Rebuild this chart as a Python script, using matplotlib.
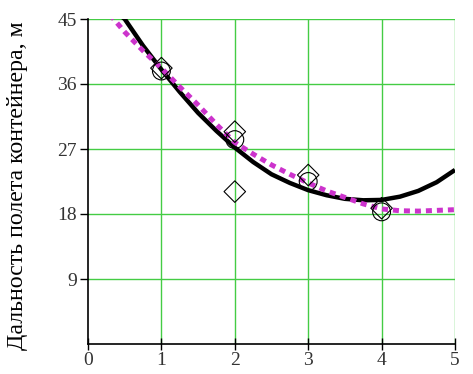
import matplotlib
matplotlib.use("Agg")
import matplotlib.pyplot as plt
import numpy as np

# measured points
circ_x = [1, 2, 3, 4]
circ_y = [37.8, 28.3, 22.5, 18.3]
diam_x = [1, 2, 2, 3, 4]
diam_y = [38.2, 29.4, 21.1, 23.4, 18.8]

# black curve
blk_x = [0.4, 0.5, 0.75, 1.0, 1.25, 1.5, 1.75, 2.0, 2.25, 2.5, 2.75, 3.0, 3.25, 3.5, 3.75, 4.0, 4.25, 4.5, 4.75, 5.0]
blk_y = [45.8, 45.0, 41.3, 38.0, 34.9, 32.0, 29.5, 27.2, 25.2, 23.5, 22.3, 21.3, 20.6, 20.1, 19.9, 19.95, 20.4, 21.2, 22.4, 24.1]

# magenta dashed curve
mag_x = [0.3, 0.5, 0.75, 1.0, 1.25, 1.5, 1.75, 2.0, 2.25, 2.5, 2.75, 3.0, 3.25, 3.5, 3.75, 4.0, 4.25, 4.5, 4.75, 5.0]
mag_y = [45.6, 43.2, 40.6, 38.2, 35.6, 33.1, 30.4, 27.9, 26.3, 24.8, 23.5, 22.3, 21.2, 20.3, 19.4, 18.7, 18.45, 18.4, 18.5, 18.6]

xticks = [0, 1, 2, 3, 4, 5]
yticks = [9, 18, 27, 36, 45]
ylabel = "Дальность полета контейнера, м"

fig = plt.figure(figsize=(4.73, 3.74), dpi=100)
ax = fig.add_axes([88/473, 1-344/374, (455-88)/473, (344-19)/374])
ax.set_xlim(0, 5)
ax.set_ylim(0, 45)

grid_c = "#44cc44"
for xv in xticks[1:]:
    ax.axvline(xv, color=grid_c, lw=1.0, zorder=1)
for yv in yticks:
    ax.axhline(yv, color=grid_c, lw=1.0, zorder=1)

ax.plot(blk_x, blk_y, color="black", lw=3.2, zorder=3, solid_capstyle="butt")
ax.plot(mag_x, mag_y, color="#cc33cc", lw=3.6, ls=(0, (1.2, 1.0)), zorder=4)

ax.scatter(circ_x, circ_y, s=165, marker="o", facecolors="none", edgecolors="black", linewidths=0.8, zorder=5)
ax.scatter(diam_x, diam_y, s=120, marker="D", facecolors="none", edgecolors="black", linewidths=0.8, zorder=5)

for s in ["top", "right"]:
    ax.spines[s].set_visible(False)
for s in ["left", "bottom"]:
    ax.spines[s].set_color("black")
    ax.spines[s].set_linewidth(1.2)

ax.set_xticks(xticks)
ax.set_yticks(yticks)
tf = dict(family="Liberation Serif", size=14, color="#333333")
ax.set_xticklabels([str(v) for v in xticks], **tf)
ax.set_yticklabels([str(v) for v in yticks], **tf)
ax.tick_params(axis="x", direction="inout", length=8, width=1, pad=2)
ax.tick_params(axis="y", direction="out", length=6, width=1, pad=2)

fig.text(18/473, 1 - 186/374, ylabel, rotation=90, ha="center", va="center",
         family="Liberation Serif", size=17.2, color="black")

fig.savefig("out.png", dpi=100)
